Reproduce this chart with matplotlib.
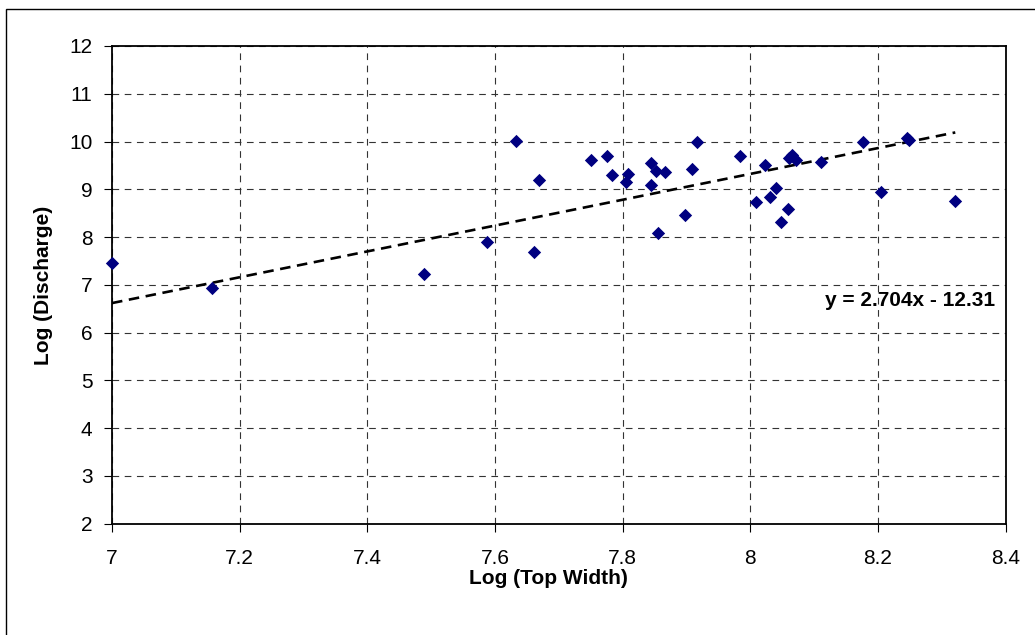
import numpy as np
import matplotlib.pyplot as plt
from matplotlib.patches import Rectangle

plt.rcParams['font.family'] = ['Liberation Sans', 'DejaVu Sans']

# Data
log_top_width = [7.000, 7.157, 7.488, 7.588, 7.633, 7.661, 7.669, 7.750, 7.775,
                 7.783, 7.809, 7.805, 7.844, 7.852, 7.845, 7.867, 7.856, 7.898,
                 7.909, 7.917, 7.984, 8.023, 8.009, 8.040, 8.031, 8.059, 8.048,
                 8.065, 8.061, 8.071, 8.110, 8.176, 8.204, 8.246, 8.248, 8.321]
log_discharge = [7.45, 6.94, 7.23, 7.90, 10.02, 7.68, 9.20, 9.61, 9.70,
                 9.29, 9.33, 9.15, 9.56, 9.39, 9.10, 9.36, 8.09, 8.46,
                 9.43, 9.98, 9.70, 9.51, 8.73, 9.02, 8.83, 8.58, 8.32,
                 9.72, 9.66, 9.61, 9.58, 9.99, 8.95, 10.08, 10.04, 8.76]

slope = 2.704
intercept = -12.31

x_ticks = [7, 7.2, 7.4, 7.6, 7.8, 8, 8.2, 8.4]
x_tick_labels = ['7', '7.2', '7.4', '7.6', '7.8', '8', '8.2', '8.4']
y_ticks = list(range(2, 13))

fig = plt.figure(figsize=(10.35, 6.35), dpi=100)
ax = fig.add_axes([0.1082, 0.1753, 0.8635, 0.7523])

# outer chart border (left/top visible, rest runs off the image)
fig.patches.append(Rectangle((6 / 1035, -0.05), 1.1, 1 - 9 / 635 + 0.05,
                             transform=fig.transFigure, fill=False,
                             edgecolor='black', linewidth=1.0))

ax.grid(True, color='#333333', linestyle=(0, (6, 5)), linewidth=0.8)
ax.set_axisbelow(True)

# trendline
xs = np.array([min(log_top_width), max(log_top_width)])
ax.plot(xs, slope * xs + intercept, color='black', linewidth=1.9,
        linestyle=(0, (4, 2.5)))

ax.scatter(log_top_width, log_discharge, marker='D', s=46, color='#000080',
           zorder=3, linewidths=0, clip_on=False)

ax.set_xlim(7, 8.4)
ax.set_ylim(2, 12)
ax.set_xticks(x_ticks)
ax.set_xticklabels(x_tick_labels)
ax.set_yticks(y_ticks)
ax.tick_params(direction='out', length=6, width=0.8, labelsize=15, pad=8)
ax.tick_params(axis='x', pad=12)

for sp in ax.spines.values():
    sp.set_linewidth(1.3)
    sp.set_color('black')

ax.text(8.383, 6.68, 'y = 2.704x - 12.31', ha='right', va='center',
        fontsize=15, fontweight='bold')

fig.text(44 / 1035, 1 - 285 / 635, 'Log (Discharge)', rotation=90,
         ha='center', va='center', fontsize=15, fontweight='bold')
fig.text(548 / 1035, 1 - 578 / 635, 'Log (Top Width)',
         ha='center', va='center', fontsize=15, fontweight='bold')

fig.savefig('out.png', dpi=100)
